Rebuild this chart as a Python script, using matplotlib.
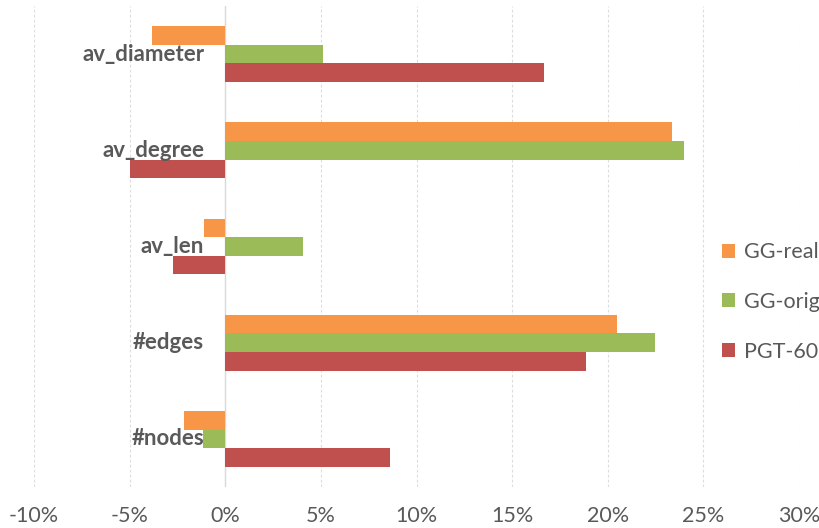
import matplotlib
matplotlib.use("Agg")
import matplotlib.pyplot as plt
import matplotlib.transforms as mtransforms
from matplotlib.ticker import FuncFormatter
import numpy as np

plt.rcParams['font.family'] = ['Lato', 'DejaVu Sans']

# metrics, bottom to top
categories = ['#nodes', '#edges', 'av_len', 'av_degree', 'av_diameter']
series_names = ['GG-real', 'GG-orig', 'PGT-60']
gg_real = [-2.15, 20.5, -1.1, 23.35, -3.85]
gg_orig = [-1.15, 22.45, 4.05, 24.0, 5.1]
pgt_60 = [8.6, 18.85, -2.75, -5.0, 16.65]
x_ticks = [-10, -5, 0, 5, 10, 15, 20, 25, 30]

colors = ['#F79646', '#9BBB59', '#C0504D']
text_gray = '#595959'

fig = plt.figure(figsize=(8.19, 5.28), dpi=100)
ax = fig.add_axes([34 / 819, 41 / 528, 765 / 819, 481 / 528])

y = np.arange(len(categories))
h = 0.194
for i, (vals, name, c) in enumerate(zip([gg_real, gg_orig, pgt_60], series_names, colors)):
    ax.barh(y + (1 - i) * h, vals, height=h, color=c, label=name, zorder=2)

ax.set_xlim(-10, 30)
ax.set_ylim(-0.5, len(categories) - 0.5)
ax.set_xticks(x_ticks)
ax.xaxis.set_major_formatter(FuncFormatter(lambda v, p: f'{v:.0f}%'))
ax.tick_params(axis='x', length=0, pad=14, labelsize=15.5, labelcolor=text_gray)
ax.set_yticks([])

for s in ax.spines.values():
    s.set_visible(False)

# vertical gridlines, solid at zero
for t in x_ticks:
    if t == 0:
        ax.axvline(t, color='#D9D9D9', lw=1.0, zorder=1)
    else:
        ax.axvline(t, color='#DCDCDC', lw=0.8, ls=(0, (2.5, 2)), zorder=1)

# category labels sit just left of the zero line
offset = mtransforms.offset_copy(ax.transData, fig=fig, x=-21, y=0, units='dots')
for yi, name in zip(y, categories):
    ax.text(0, yi, name, transform=offset, ha='right', va='center',
            fontsize=16, fontweight='bold', color=text_gray, zorder=3)

leg = ax.legend(loc='center left', bbox_to_anchor=(722 / 819, (528 - 302) / 528),
                bbox_transform=fig.transFigure, frameon=False, fontsize=15.5,
                handlelength=0.62, handleheight=0.62, handletextpad=0.4,
                labelspacing=1.38, borderpad=0, borderaxespad=0)
for t in leg.get_texts():
    t.set_color(text_gray)

fig.savefig('out.png', dpi=100)
